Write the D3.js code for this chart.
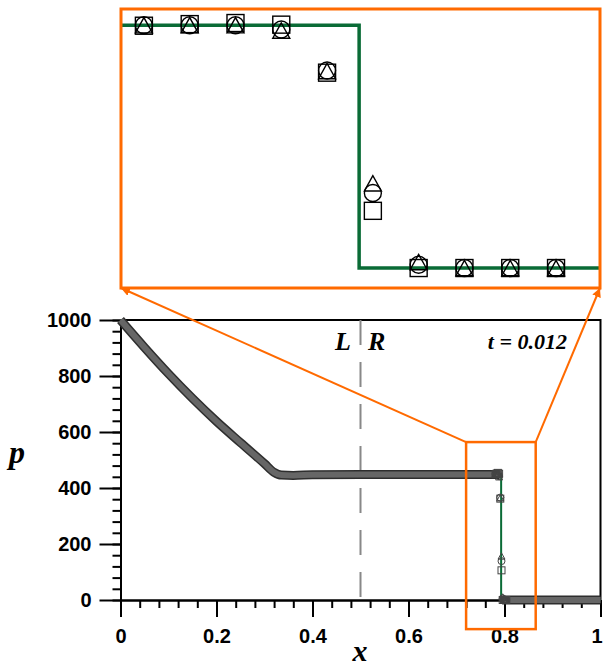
<!DOCTYPE html>
<html>
<head>
<meta charset="utf-8">
<script src="https://cdn.jsdelivr.net/npm/d3@7"></script>
<style>
  body { margin: 0; background: #fff; }
  svg { display: block; }
  .tk text { font-family: "Liberation Sans", Arial, sans-serif; font-weight: bold; font-size: 20px; fill: #000; }
  .tk path, .tk line { stroke: #000; stroke-width: 2; }
  .lbl { font-family: "Liberation Serif", "Times New Roman", serif; font-style: italic; font-weight: bold; fill: #000; }
</style>
</head>
<body>
<script>
const W = 603, H = 666

const xTicks = [0, 0.2, 0.4, 0.6, 0.8, 1]
const yTicks = [0, 200, 400, 600, 800, 1000]

// exact solution (green)
const exX = [0, 0.05, 0.1, 0.15, 0.2, 0.25, 0.3, 0.33, 0.793, 0.793, 1]
const exP = [1000, 902, 808, 720, 638, 562, 488, 450, 450, 0.01, 0.01]

// numerical solution, dense part drawn as a band (null = gap at the shock)
const numX = [0, 0.05, 0.1, 0.15, 0.2, 0.25, 0.3, 0.32, 0.335, 0.36, 0.4, 0.5, 0.6, 0.7, 0.79, 0.792, 0.795, 0.9, 1]
const numP = [1000, 902, 808, 720, 638, 562, 487, 456, 446, 445, 447, 448, 448, 448, 448, null, 0, 0, 0]

// cells around the shock, three schemes
const cellX = [0.78125, 0.78375, 0.78625, 0.78875, 0.79125, 0.79375, 0.79625, 0.79875, 0.80125, 0.80375]
const sqP = [449, 452, 454, 451, 362, 106, 0, 0, 0, 0]
const ciP = [450, 450, 450, 442, 366, 139, 6, 0, 0, 0]
const trP = [450, 450, 450, 440, 365, 157, 11, 0, 0, 0]

// zoom window
const zoomX = [0.72, 0.865]
const zoomP = [-104, 564]
const insetX = [0.78, 0.80615]
const insetP = [-37, 480]

const orange = '#ff6a00'
const green = '#0a6b36'

const svg = d3.select('body').append('svg').attr('width', W).attr('height', H)

const x = d3.scaleLinear().domain([0, 1]).range([120.5, 600.5])
const y = d3.scaleLinear().domain([0, 1000]).range([600, 320])

// axes
svg.append('g').attr('class', 'tk').attr('transform', 'translate(0,600)')
  .call(d3.axisBottom(x).tickValues(d3.range(0, 1.001, 0.04)).tickSize(8).tickFormat('').tickSizeOuter(0))
const gx = svg.append('g').attr('class', 'tk').attr('transform', 'translate(0,600)')
  .call(d3.axisBottom(x).tickValues(xTicks).tickSize(17).tickPadding(12).tickFormat(d => String(d)).tickSizeOuter(0))
gx.selectAll('text').filter(d => d === 1).attr('dx', -4)
svg.append('g').attr('class', 'tk').attr('transform', 'translate(120.5,0)')
  .call(d3.axisLeft(y).tickValues(d3.range(0, 1001, 40)).tickSize(8).tickFormat('').tickSizeOuter(0))
svg.append('g').attr('class', 'tk').attr('transform', 'translate(120.5,0)')
  .call(d3.axisLeft(y).tickValues(yTicks).tickSize(21).tickPadding(8).tickFormat(d => String(d)).tickSizeOuter(0))

svg.append('path')
  .attr('d', 'M' + x(0) + ',' + y(1000) + 'H' + x(1) + 'V' + y(0))
  .attr('fill', 'none').attr('stroke', '#000').attr('stroke-width', 2)

// L | R divider
svg.append('line')
  .attr('x1', x(0.5)).attr('x2', x(0.5)).attr('y1', y(1000)).attr('y2', y(0))
  .attr('stroke', '#888').attr('stroke-width', 2).attr('stroke-dasharray', '25,17')

svg.append('text').attr('class', 'lbl').attr('x', 335).attr('y', 350).attr('font-size', 26).text('L')
svg.append('text').attr('class', 'lbl').attr('x', 368).attr('y', 350).attr('font-size', 26).text('R')
svg.append('text').attr('class', 'lbl').attr('x', 567).attr('y', 349).attr('font-size', 22)
  .attr('text-anchor', 'end').text('t = 0.012')
svg.append('text').attr('class', 'lbl').attr('x', 360).attr('y', 661).attr('font-size', 30)
  .attr('text-anchor', 'middle').text('x')
svg.append('text').attr('class', 'lbl').attr('x', 9).attr('y', 463).attr('font-size', 32).text('p')

const exact = exX.map((v, i) => ({x: v, p: exP[i]}))
const num = numX.map((v, i) => ({x: v, p: numP[i]}))

const lineMain = d3.line().defined(d => d.p != null).x(d => x(d.x)).y(d => y(d.p))
const bandLine = d3.line().defined(d => d.p != null).x(d => x(d.x)).y(d => y(d.p))
  .curve(d3.curveMonotoneX)

svg.append('path').attr('d', lineMain(exact))
  .attr('fill', 'none').attr('stroke', green).attr('stroke-width', 2)

svg.append('path').attr('d', bandLine(num))
  .attr('fill', 'none').attr('stroke', '#2e2e2e').attr('stroke-width', 9)
svg.append('path').attr('d', bandLine(num))
  .attr('fill', 'none').attr('stroke', '#666').attr('stroke-width', 6)

function triPath (cx, cy, s) {
  const h = s * 0.9
  return 'M' + cx + ',' + (cy - h / 2) + 'L' + (cx - s / 2) + ',' + (cy + h / 2) +
    'L' + (cx + s / 2) + ',' + (cy + h / 2) + 'Z'
}

function drawMarkers (g, sx, sy, s, col, sw) {
  cellX.forEach((cx, i) => {
    g.append('rect')
      .attr('x', sx(cx) - s / 2).attr('y', sy(sqP[i]) - s / 2)
      .attr('width', s).attr('height', s)
      .attr('fill', 'none').attr('stroke', col).attr('stroke-width', sw)
    g.append('circle')
      .attr('cx', sx(cx)).attr('cy', sy(ciP[i])).attr('r', s / 2)
      .attr('fill', 'none').attr('stroke', col).attr('stroke-width', sw)
    g.append('path')
      .attr('d', triPath(sx(cx), sy(trP[i]), s))
      .attr('fill', 'none').attr('stroke', col).attr('stroke-width', sw)
  })
}

drawMarkers(svg.append('g'), x, y, 7, '#444', 1)

// zoom box in the main plot
svg.append('rect')
  .attr('x', x(zoomX[0])).attr('y', y(zoomP[1]))
  .attr('width', x(zoomX[1]) - x(zoomX[0])).attr('height', y(zoomP[0]) - y(zoomP[1]))
  .attr('fill', 'none').attr('stroke', orange).attr('stroke-width', 2.5)

// inset
const xi = d3.scaleLinear().domain(insetX).range([121, 600])
const yi = d3.scaleLinear().domain(insetP).range([288, 9])

svg.append('defs').html(
  '<marker id="arr" viewBox="0 0 10 10" refX="10" refY="5" markerWidth="9" markerHeight="9" markerUnits="userSpaceOnUse" orient="auto">' +
  '<path d="M0,0L10,5L0,10z" fill="' + orange + '"/></marker>' +
  '<clipPath id="clipIn"><rect x="121" y="9" width="479" height="279"/></clipPath>')

svg.append('line')
  .attr('x1', x(zoomX[0])).attr('y1', y(zoomP[1])).attr('x2', 121).attr('y2', 288)
  .attr('stroke', orange).attr('stroke-width', 2).attr('marker-end', 'url(#arr)')
svg.append('line')
  .attr('x1', x(zoomX[1])).attr('y1', y(zoomP[1])).attr('x2', 600).attr('y2', 288)
  .attr('stroke', orange).attr('stroke-width', 2).attr('marker-end', 'url(#arr)')

const inset = svg.append('g')
inset.append('rect').attr('x', 121).attr('y', 9).attr('width', 479).attr('height', 279)
  .attr('fill', '#fff')

const lineIn = d3.line().x(d => xi(d.x)).y(d => yi(d.p))
inset.append('path').attr('d', lineIn(exact)).attr('clip-path', 'url(#clipIn)')
  .attr('fill', 'none').attr('stroke', green).attr('stroke-width', 3.5)

drawMarkers(inset.append('g'), xi, yi, 17, '#000', 1.4)

inset.append('rect').attr('x', 121).attr('y', 9).attr('width', 479).attr('height', 279)
  .attr('fill', 'none').attr('stroke', orange).attr('stroke-width', 3)
</script>
</body>
</html>
